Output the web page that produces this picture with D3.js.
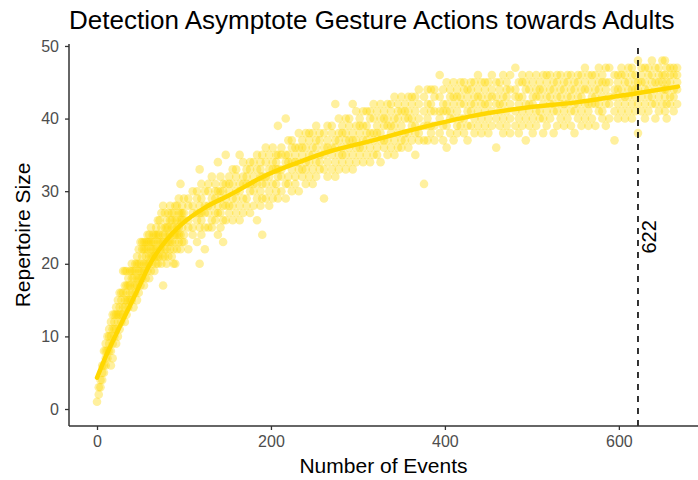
<!DOCTYPE html>
<html>
<head>
<meta charset="utf-8">
<script src="https://cdn.jsdelivr.net/npm/d3@7"></script>
<style>
  body { margin: 0; background: #fff; }
  text { font-family: "Liberation Sans", Arial, sans-serif; }
</style>
</head>
<body>
<script>
// Each row: number of events, then the repertoire sizes observed at that count
const samples = [
  [0,1],[2,2,3],[4,3,4],[6,4,5,6],[8,5,6,8],[10,6,7,8,9],[12,7,8,10],[14,8,9,10,11],
  [16,6,8,10,12],[18,7,9,11,13],[20,10,11,12,13],[22,9,11,13,14],[24,10,12,13,15],
  [26,11,13,14,16],[28,12,13,15,16],[30,13,14,16,19],[32,12,14,15,17,19],[34,13,15,16,17,19],
  [36,14,15,17,18],[38,15,16,17,19],[40,15,16,18,19,20],[42,14,17,18,19],[44,16,17,19,20],
  [46,15,17,18,20,21],[48,16,18,19,20,22],[50,17,18,19,20,23],[52,18,19,21,22,23],
  [54,17,19,20,22,23],[56,18,20,21,22,23],[58,19,20,22,23,24],[60,18,20,21,23,24],
  [62,19,21,22,23,25],[64,20,21,22,23,24],[66,19,21,22,23,24],[68,20,21,22,24,25],
  [70,20,21,23,24,26],[72,21,22,23,24,26],[74,20,22,23,25,27],[76,17,21,23,24,28],
  [78,21,22,24,25,27],[80,20,22,23,25,26],[82,21,23,24,25,27],[84,22,23,24,26,28],
  [86,21,23,25,26,27],[88,20,22,24,25,27],[90,20,23,24,26,28],[92,22,24,25,26,28],
  [94,23,24,25,27,29],[96,22,24,26,27,31],[98,23,25,26,27,28],[100,23,24,26,27,29],
  [105,22,25,26,28,29],[110,24,25,27,28,30],[115,23,26,27,29,30],[118,20,25,27,28,33],
  [120,24,26,27,29,31],[124,22,25,27,28,30],[128,25,27,28,30,31],[132,25,26,28,29,32],
  [136,26,27,29,30,31],[139,24,27,28,30,34],[142,25,27,29,30,32],[145,23,26,28,30,31],
  [148,26,28,29,31,35],[152,27,28,30,31,32],[156,26,28,29,31,33],[160,27,29,30,32,33],
  [164,26,28,30,31,35],[168,27,29,31,32,34],[172,28,29,31,32,33],[176,27,30,31,33,34],
  [180,28,30,31,32,34],[184,26,29,31,33,35],[188,28,30,32,33,34],[190,24,29,31,32,35],
  [194,29,31,32,34,36],[198,28,30,32,33,35],[202,29,31,33,34,36],[206,30,31,33,34,35],
  [208,29,32,33,35,39],[212,30,32,33,35,36],[217,29,31,34,35,40],[220,31,32,34,35,37],
  [224,30,33,34,36,37],[228,31,32,34,35,36],[232,30,33,34,36,38],[236,32,33,35,36,37],
  [240,31,33,34,36,38],[244,32,34,35,37,38],[248,31,33,35,36,38],[252,32,34,36,37,39],
  [256,33,34,35,37,38],[261,29,33,35,36,38],[265,32,34,36,37,39],[270,33,35,36,38,39],
  [274,32,34,36,37,42],[278,33,35,37,38,40],[282,34,35,36,38,39],[286,33,35,37,38,40],
  [290,34,36,37,39,40],[294,33,35,37,38,42],[298,34,36,37,39,41],[302,35,36,38,39,40],
  [306,34,36,37,39,41],[310,35,37,38,39,41],[314,34,36,38,40,41],[318,35,37,38,40,42],
  [322,35,36,38,39,41],[326,34,37,38,40,42],[330,36,37,39,40,41],[334,35,37,39,40,42],
  [338,36,38,39,41,42],[342,35,37,39,40,43],[346,36,38,40,41,42],[350,36,37,39,41,43],
  [354,37,38,40,41,42],[358,36,38,40,41,43],[362,37,39,40,42,43],[366,35,38,39,41,43],
  [370,37,38,40,42,44],[376,31,37,39,41,43],[380,37,39,40,42,44],[384,38,39,41,42,44],
  [388,37,39,41,43,44],[394,38,40,41,43,46],[398,37,39,41,42,44],[402,36,39,41,42,45],
  [406,38,40,41,43,44],[410,37,40,42,43,45],[414,38,39,41,43,44],[418,39,40,42,43,45],
  [422,38,40,42,44,45],[426,37,39,41,43,44],[430,39,41,42,44,45],[434,38,40,42,43,45],
  [438,39,41,43,44,46],[442,38,40,42,43,45],[446,39,41,42,44,45],[450,38,40,42,43,45],
  [454,39,41,43,44,46],[459,36,40,42,43,45],[463,39,41,42,44,45],[467,38,40,42,43,46],
  [471,39,41,43,44,45],[475,38,40,42,44,46],[481,39,41,43,44,47],[485,38,40,42,43,45],
  [489,39,41,43,45,46],[493,37,40,42,44,45],[497,39,41,42,44,46],[501,38,40,42,43,45],
  [505,39,41,43,44,46],[509,40,41,43,44,45],[513,38,40,42,44,46],[517,39,41,43,45,46],
  [521,40,42,43,44,46],[525,38,41,42,44,45],[529,39,41,43,45,46],[533,40,42,43,44,46],
  [537,39,41,42,44,45],[541,40,42,43,45,46],[545,39,41,43,44,46],[549,38,41,42,44,45],
  [553,40,42,43,45,46],[557,39,41,43,44,46],[561,40,42,44,45,47],[565,39,41,42,44,46],
  [569,40,42,43,45,46],[573,39,42,43,44,46],[577,41,42,44,45,47],[581,40,41,43,45,46],
  [585,39,42,44,45,47],[589,40,42,43,45,47],[595,37,41,43,44,46],[599,40,42,44,45,46],
  [603,41,43,44,46,47],[607,40,42,43,45,46],[611,41,43,44,45,47],[615,40,42,44,46,47],
  [619,41,43,44,45,46],[622,38,42,44,45,48],[626,41,43,45,46,47],[630,40,42,44,45,47],
  [634,41,43,44,46,47],[638,42,43,45,46,48],[642,40,42,44,45,47],[646,41,43,45,46,47],
  [650,42,44,45,46,48],[653,41,43,44,46,48],[655,40,42,44,45,47],[659,42,43,45,46,47],
  [663,41,43,44,46,47],[667,42,44,45,46,47]
];

// smoothed fit
const fitX = [0,10,28,45,61,80,95,125,153,191,230,268,314,371,429,486,555,621,668];
const fitY = [4.3,7.2,11.8,16,20,23.3,25.2,27.8,29.5,32,33.9,35.5,36.9,38.7,40.3,41.4,42.3,43.5,44.4];

const asymptote = 622;
const xTicks = [0,200,400,600];
const yTicks = [0,10,20,30,40,50];

const width = 698, height = 480;
const gold = "#FFD700";

const points = [];
samples.forEach(r => r.slice(1).forEach(v => points.push({ x: r[0], y: v })));
const fit = fitX.map((d, i) => ({ x: d, y: fitY[i] }));

const svg = d3.select("body").append("svg")
  .attr("width", width)
  .attr("height", height);

const x = d3.scaleLinear().domain([-32.2, 691]).range([69, 698]);
const y = d3.scaleLinear().domain([-2.34, 50.27]).range([426, 44]);

// points
svg.append("g")
  .selectAll("circle")
  .data(points)
  .enter()
  .append("circle")
  .attr("cx", d => x(d.x))
  .attr("cy", d => y(d.y))
  .attr("r", 4.3)
  .attr("fill", gold)
  .attr("fill-opacity", 0.38);

// smooth line
svg.append("path")
  .datum(fit)
  .attr("fill", "none")
  .attr("stroke", gold)
  .attr("stroke-width", 4.5)
  .attr("stroke-linecap", "round")
  .attr("d", d3.line().x(d => x(d.x)).y(d => y(d.y)).curve(d3.curveMonotoneX));

// dashed asymptote
svg.append("line")
  .attr("x1", x(asymptote)).attr("x2", x(asymptote))
  .attr("y1", y.range()[0]).attr("y2", y.range()[1])
  .attr("stroke", "#000")
  .attr("stroke-width", 1.6)
  .attr("stroke-dasharray", "6,6");

svg.append("text")
  .attr("transform", `translate(${x(asymptote) + 18},${y(23.7)}) rotate(-90)`)
  .attr("text-anchor", "middle")
  .attr("font-size", 20)
  .attr("fill", "#000")
  .text(asymptote);

// axes
const xAxis = svg.append("g")
  .attr("transform", `translate(0,${y.range()[0]})`)
  .call(d3.axisBottom(x).tickValues(xTicks).tickSize(4).tickPadding(6));
const yAxis = svg.append("g")
  .attr("transform", `translate(${x.range()[0]},0)`)
  .call(d3.axisLeft(y).tickValues(yTicks).tickSize(4).tickPadding(6));

[xAxis, yAxis].forEach(g => {
  g.select(".domain").attr("stroke", "#333").attr("stroke-width", 1.5);
  g.selectAll(".tick line").attr("stroke", "#333").attr("stroke-width", 1.3);
  g.selectAll(".tick text")
    .attr("fill", "#4d4d4d")
    .attr("font-size", 16)
    .style("font-family", "Liberation Sans, Arial, sans-serif");
});
xAxis.select(".domain").attr("d", `M${x.range()[0]},0H${x.range()[1]}`);
yAxis.select(".domain").attr("d", `M0,${y.range()[0]}V${y.range()[1]}`);

// titles
svg.append("text")
  .attr("x", 69)
  .attr("y", 29)
  .attr("font-size", 26)
  .attr("fill", "#000")
  .text("Detection Asymptote Gesture Actions towards Adults");

svg.append("text")
  .attr("x", (x.range()[0] + x.range()[1]) / 2)
  .attr("y", 473)
  .attr("text-anchor", "middle")
  .attr("font-size", 21)
  .attr("fill", "#000")
  .text("Number of Events");

svg.append("text")
  .attr("transform", `translate(30,${(y.range()[0] + y.range()[1]) / 2}) rotate(-90)`)
  .attr("text-anchor", "middle")
  .attr("font-size", 21)
  .attr("fill", "#000")
  .text("Repertoire Size");
</script>
</body>
</html>
